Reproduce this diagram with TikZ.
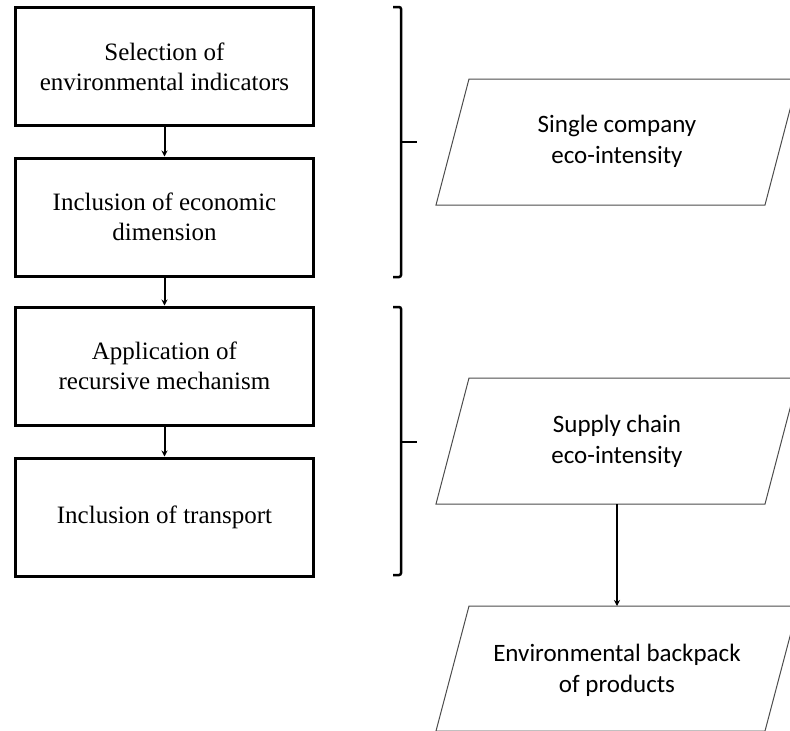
\documentclass[tikz,border=0pt]{standalone}
\usepackage{fontspec}
\newfontfamily\serifF{Liberation Serif}
\newfontfamily\sansF{Carlito}
\usetikzlibrary{arrows.meta}
\tikzset{
  stepbox/.style={draw=black, line width=3pt, minimum width=298pt, minimum height=118pt, inner sep=0pt, align=center, font=\serifF\fontsize{25}{30}\selectfont},
  paratext/.style={align=center, inner sep=0pt, font=\sansF\fontsize{25}{31}\selectfont},
  para/.style={draw=black!70, line width=1pt},
  brace/.style={draw=black, line width=2.5pt, rounded corners=2pt},
  flow/.style={draw=black, line width=2pt, -{Stealth[length=6pt,width=6pt]}},
}
\begin{document}
\begin{tikzpicture}[x=1pt,y=-1pt]
\useasboundingbox (0,0) rectangle (790,731);
\clip (0,0) rectangle (790,731);
% left boxes
\node[stepbox] (b1) at (164.5,66.5) {Selection of\\environmental indicators};
\node[stepbox] (b2) at (164.5,217) {Inclusion of economic\\dimension};
\node[stepbox] (b3) at (164.5,366) {Application of\\recursive mechanism};
\node[stepbox] (b4) at (164.5,517) {Inclusion of transport};
\draw[flow] (b1.south) -- (b2.north);
\draw[flow] (b2.south) -- (b3.north);
\draw[flow] (b3.south) -- (b4.north);
% braces
\draw[brace] (393,7) -- (401,7) -- (401,277) -- (393,277);
\coordinate (t1) at (417,142);
\draw[draw=black, line width=2.5pt] (401,142) -- (t1);
\draw[brace] (393,307) -- (401,307) -- (401,575) -- (393,575);
\coordinate (t2) at (417,442);
\draw[draw=black, line width=2.5pt] (401,442) -- (t2);
% parallelograms
\draw[para] (469,79) -- (798,79) -- (765,205) -- (436,205) -- cycle;
\node[paratext] (p1) at (617,141) {Single company\\eco-intensity};
\draw[para] (469,378) -- (798,378) -- (765,504) -- (436,504) -- cycle;
\node[paratext] (p2) at (617,441) {Supply chain\\eco-intensity};
\draw[para] (469,606) -- (798,606) -- (765,731) -- (436,731) -- cycle;
\node[paratext] (p3) at (617,670) {Environmental backpack\\of products};
\coordinate (p2b) at (617,504);
\coordinate (p3t) at (617,606);
\draw[flow] (p2b) -- (p3t);
\end{tikzpicture}
\end{document}
